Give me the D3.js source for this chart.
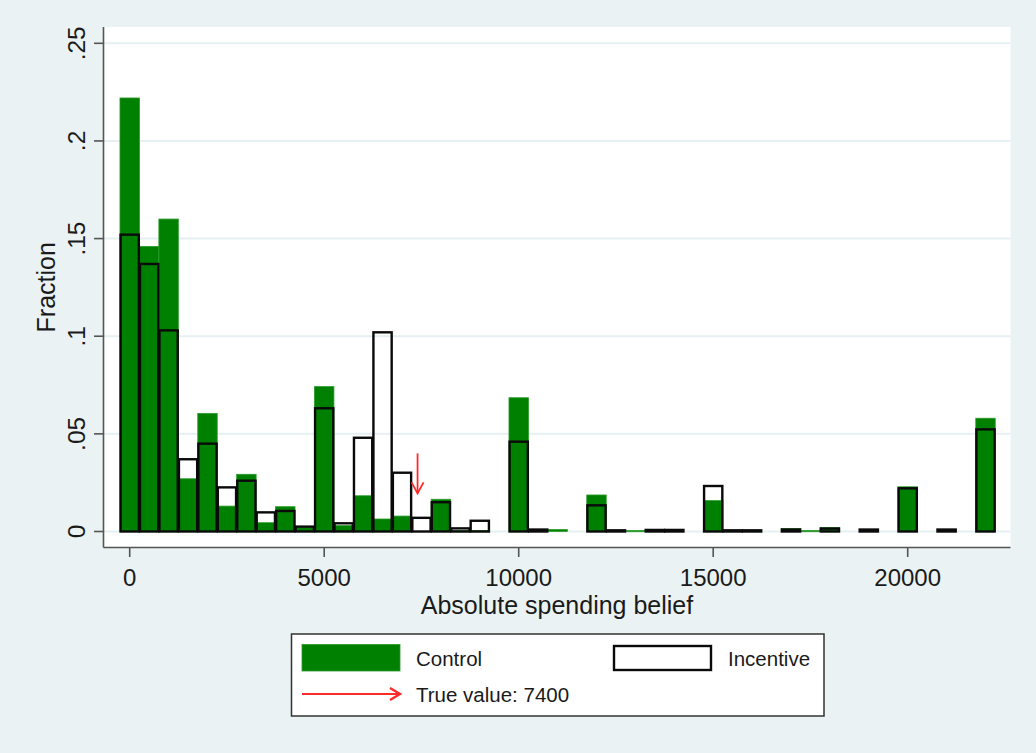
<!DOCTYPE html>
<html>
<head>
<meta charset="utf-8">
<script src="https://cdn.jsdelivr.net/npm/d3@7"></script>
<style>
  html, body { margin: 0; padding: 0; background: #eaf2f3; }
  svg { display: block; font-family: "Liberation Sans", Arial, sans-serif; }
</style>
</head>
<body>
<svg id="chart" width="1036" height="753"></svg>
<script>
// ---- data ----
const binCenters = [0, 500, 1000, 1500, 2000, 2500, 3000, 3500, 4000, 4500,
  5000, 5500, 6000, 6500, 7000, 7500, 8000, 8500, 9000, 9500,
  10000, 10500, 11000, 11500, 12000, 12500, 13000, 13500, 14000, 14500,
  15000, 15500, 16000, 16500, 17000, 17500, 18000, 18500, 19000, 19500,
  20000, 20500, 21000, 21500, 22000];
const controlFrac = [0.222, 0.146, 0.160, 0.027, 0.0605, 0.013, 0.0293, 0.0045, 0.0127, 0.0022,
  0.0742, 0.003, 0.0183, 0.0064, 0.0079, 0, 0.0165, 0.0005, 0.0005, 0,
  0.0685, 0, 0.001, 0, 0.0187, 0, 0.0005, 0, 0, 0,
  0.0158, 0, 0, 0, 0.0015, 0.0005, 0.002, 0, 0, 0,
  0.0229, 0, 0, 0, 0.058];
const incentiveFrac = [0.152, 0.137, 0.103, 0.037, 0.045, 0.0226, 0.026, 0.0098, 0.0105, 0.0025,
  0.0631, 0.0042, 0.048, 0.102, 0.0301, 0.007, 0.015, 0.0016, 0.0055, 0,
  0.046, 0.001, 0, 0, 0.0134, 0.0006, 0, 0.0008, 0.0008, 0,
  0.0233, 0.0006, 0.0006, 0, 0.001, 0, 0.0015, 0, 0.001, 0,
  0.0221, 0, 0.001, 0, 0.0523];
const binWidth = 500;
const xTicks = [0, 5000, 10000, 15000, 20000];
const yTicks = [0, 0.05, 0.1, 0.15, 0.2, 0.25];
const yTickLabels = ["0", ".05", ".1", ".15", ".2", ".25"];
const trueValue = 7400;
const arrowFrom = 0.040, arrowTo = 0.0195;
const xTitle = "Absolute spending belief";
const yTitle = "Fraction";
const legendLabels = ["Control", "Incentive", "True value: 7400"];

// ---- layout ----
const svg = d3.select("#chart");
const W = 1036, H = 753;
const plot = { left: 103.5, right: 1010.5, top: 27, bottom: 547.5 };
const green = "#008000";
const red = "#ff2a2a";
const axisColor = "#555";
const textColor = "#1a1a1a";

svg.append("rect").attr("width", W).attr("height", H).attr("fill", "#eaf2f3");
svg.append("rect")
  .attr("x", plot.left).attr("y", plot.top)
  .attr("width", plot.right - plot.left).attr("height", plot.bottom - plot.top)
  .attr("fill", "#ffffff");

const x = d3.scaleLinear().domain([0, 22000]).range([129.7, 985.5]);
const y = d3.scaleLinear().domain([0, 0.25]).range([531.5, 43.3]);

// grid
svg.append("g").selectAll("line").data(yTicks).join("line")
  .attr("x1", plot.left).attr("x2", plot.right)
  .attr("y1", d => y(d)).attr("y2", d => y(d))
  .attr("stroke", "#e6eff1").attr("stroke-width", 2);

const bins = binCenters.map((c, i) => ({ c, ctl: controlFrac[i], inc: incentiveFrac[i] }));

// control bars
svg.append("g").selectAll("rect").data(bins.filter(d => d.ctl > 0)).join("rect")
  .attr("x", d => x(d.c - binWidth / 2))
  .attr("width", d => x(d.c + binWidth / 2) - x(d.c - binWidth / 2))
  .attr("y", d => y(d.ctl))
  .attr("height", d => Math.max(1.2, y(0) - y(d.ctl)))
  .attr("fill", green)
  .attr("stroke", "#2a9a2a").attr("stroke-width", 0.8);

// incentive bars (hollow)
svg.append("g").selectAll("rect").data(bins.filter(d => d.inc > 0)).join("rect")
  .attr("x", d => x(d.c - binWidth / 2) + 0.6)
  .attr("width", d => x(d.c + binWidth / 2) - x(d.c - binWidth / 2) - 1.2)
  .attr("y", d => y(d.inc))
  .attr("height", d => Math.max(0.5, y(0) - y(d.inc)))
  .attr("fill", "none")
  .attr("stroke", "#0a0a0a").attr("stroke-width", 2.4);

// true value arrow
function arrowHead(g, xt, yt, dir, len, half, sw) {
  let pts;
  if (dir === "down") pts = [[xt - half, yt - len], [xt, yt], [xt + half, yt - len]];
  else pts = [[xt - len, yt - half], [xt, yt], [xt - len, yt + half]];
  g.append("path").attr("d", d3.line()(pts))
    .attr("fill", "none").attr("stroke", red).attr("stroke-width", sw);
}
const ag = svg.append("g");
ag.append("line")
  .attr("x1", x(trueValue)).attr("x2", x(trueValue))
  .attr("y1", y(arrowFrom)).attr("y2", y(arrowTo))
  .attr("stroke", red).attr("stroke-width", 1.8);
arrowHead(ag, x(trueValue), y(arrowTo), "down", 11, 6, 1.8);

// axes lines
svg.append("line").attr("x1", plot.left).attr("x2", plot.left)
  .attr("y1", plot.top).attr("y2", plot.bottom)
  .attr("stroke", axisColor).attr("stroke-width", 1.6);
svg.append("line").attr("x1", plot.left).attr("x2", plot.right)
  .attr("y1", plot.bottom).attr("y2", plot.bottom)
  .attr("stroke", axisColor).attr("stroke-width", 1.6);

// y ticks
const yt = svg.append("g");
yt.selectAll("line").data(yTicks).join("line")
  .attr("x1", 94).attr("x2", plot.left)
  .attr("y1", d => y(d)).attr("y2", d => y(d))
  .attr("stroke", axisColor).attr("stroke-width", 1.6);
yt.selectAll("text").data(yTicks).join("text")
  .attr("transform", d => `translate(85,${y(d)}) rotate(-90)`)
  .attr("text-anchor", "middle")
  .attr("font-size", 24.5).attr("fill", textColor)
  .text((d, i) => yTickLabels[i]);

// x ticks
const xt = svg.append("g");
xt.selectAll("line").data(xTicks).join("line")
  .attr("x1", d => x(d)).attr("x2", d => x(d))
  .attr("y1", plot.bottom).attr("y2", 557)
  .attr("stroke", axisColor).attr("stroke-width", 1.6);
xt.selectAll("text").data(xTicks).join("text")
  .attr("x", d => x(d)).attr("y", 585.5)
  .attr("text-anchor", "middle")
  .attr("font-size", 24).attr("fill", textColor)
  .text(d => d3.format("d")(d));

// titles
svg.append("text")
  .attr("x", (plot.left + plot.right) / 2).attr("y", 613.5)
  .attr("text-anchor", "middle").attr("font-size", 25).attr("fill", textColor)
  .text(xTitle);
svg.append("text")
  .attr("transform", `translate(55,${(plot.top + plot.bottom) / 2}) rotate(-90)`)
  .attr("text-anchor", "middle").attr("font-size", 25).attr("fill", textColor)
  .text(yTitle);

// legend
const lg = svg.append("g");
lg.append("rect").attr("x", 291.5).attr("y", 634).attr("width", 532.5).attr("height", 82)
  .attr("fill", "#ffffff").attr("stroke", "#333").attr("stroke-width", 1.5);
lg.append("rect").attr("x", 302).attr("y", 644.5).attr("width", 98).attr("height", 26.5)
  .attr("fill", green).attr("stroke", "#2a9a2a").attr("stroke-width", 0.8);
lg.append("text").attr("x", 416).attr("y", 665.5).attr("font-size", 20.5).attr("fill", textColor)
  .text(legendLabels[0]);
lg.append("rect").attr("x", 614).attr("y", 646).attr("width", 97).attr("height", 24)
  .attr("fill", "#ffffff").attr("stroke", "#0a0a0a").attr("stroke-width", 2.4);
lg.append("text").attr("x", 728).attr("y", 665.5).attr("font-size", 20.5).attr("fill", textColor)
  .text(legendLabels[1]);
lg.append("line").attr("x1", 302).attr("x2", 400).attr("y1", 694).attr("y2", 694)
  .attr("stroke", red).attr("stroke-width", 2.2);
arrowHead(lg, 400, 694, "right", 10, 6, 2.4);
lg.append("text").attr("x", 416).attr("y", 701.5).attr("font-size", 20.5).attr("fill", textColor)
  .text(legendLabels[2]);
</script>
</body>
</html>
